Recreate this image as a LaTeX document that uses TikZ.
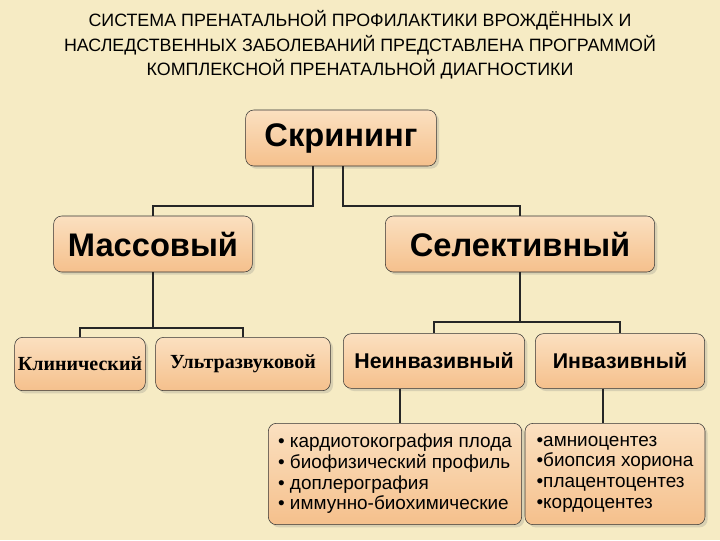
\documentclass[tikz,border=0pt]{standalone}
\usepackage{fontspec}
\setmainfont{Liberation Sans}
\newfontfamily\serifbold{Liberation Serif}
\usetikzlibrary{positioning,shadows}

\definecolor{bgcream}{HTML}{F6EBC4}
\definecolor{boxtop}{HTML}{FBE0C0}
\definecolor{boxbot}{HTML}{F5C08C}

\begin{document}
\begin{tikzpicture}[
      x=0.75pt, y=-0.75pt,
      box/.style={
        rectangle, draw=black!80, rounded corners=6pt,
        top color=boxtop, bottom color=boxbot,
        align=center, inner sep=2pt,
        drop shadow={opacity=0.25, shadow xshift=2pt, shadow yshift=-2pt}
      },
      big/.style={font=\fontsize{24.5}{27}\bfseries\selectfont},
      link/.style={draw=black!85, line width=1.4pt}
    ]
    \fill[bgcream] (0,0) rectangle (720,540);
    \useasboundingbox (0,0) rectangle (720,540);

    % Title
    \node[align=center, font=\fontsize{13.4}{18.5}\selectfont] (title) at (360,45)
      {СИСТЕМА ПРЕНАТАЛЬНОЙ ПРОФИЛАКТИКИ ВРОЖДЁННЫХ И\\
       НАСЛЕДСТВЕННЫХ ЗАБОЛЕВАНИЙ ПРЕДСТАВЛЕНА ПРОГРАММОЙ\\
       КОМПЛЕКСНОЙ ПРЕНАТАЛЬНОЙ ДИАГНОСТИКИ};

    % Levels
    \node[box, big, minimum width=143pt, minimum height=42pt] (scr) at (341,138) {Скрининг};
    \node[box, big, minimum width=149pt, minimum height=42pt] (mass) at (153,244) {Массовый};
    \node[box, big, minimum width=202pt, minimum height=42pt] (sel) at (520,244) {Селективный};

    \node[box, minimum width=98pt, minimum height=40pt, font=\serifbold\fontsize{15}{17}\bfseries\selectfont] (clin) at (80,364) {Клинический};
    \node[box, minimum width=131pt, minimum height=40pt, font=\serifbold\fontsize{15}{17}\bfseries\selectfont] (usd) at (243,364) {Ультразвуковой};
    \node[box, minimum width=136pt, minimum height=41pt, font=\fontsize{16}{19}\bfseries\selectfont] (noninv) at (434,361) {Неинвазивный};
    \node[box, minimum width=127pt, minimum height=41pt, font=\fontsize{16}{19}\bfseries\selectfont] (inv) at (620,361) {Инвазивный};

    \node[box, minimum width=190pt, minimum height=76pt, align=left, font=\fontsize{14.2}{15.5}\selectfont] (list1) at (395,474)
      {• кардиотокография плода\\ • биофизический профиль\\ • доплерография\\ • иммунно-биохимические};
    \node[box, minimum width=135pt, minimum height=76pt, align=left, font=\fontsize{14.2}{15.5}\selectfont] (list2) at (615,474)
      {•амниоцентез\\ •биопсия хориона\\ •плацентоцентез\\ •кордоцентез};

    % Connectors
    \draw[link] ([xshift=-21pt]scr.south) |- (153,206) -- (mass.north);
    \draw[link] ([xshift=1.5pt]scr.south) |- (520,206) -- (sel.north);
    \draw[link] (mass.south) -- (153,328) -| (clin.north);
    \draw[link] (153,328) -| (usd.north);
    \draw[link] (sel.south) -- (520,322) -| (noninv.north);
    \draw[link] (520,322) -| (inv.north);
    \draw[link] (noninv.south -| 400,0) -- (list1.north -| 400,0);
    \draw[link] (inv.south -| 603,0) -- (list2.north -| 603,0);
\end{tikzpicture}
\end{document}
